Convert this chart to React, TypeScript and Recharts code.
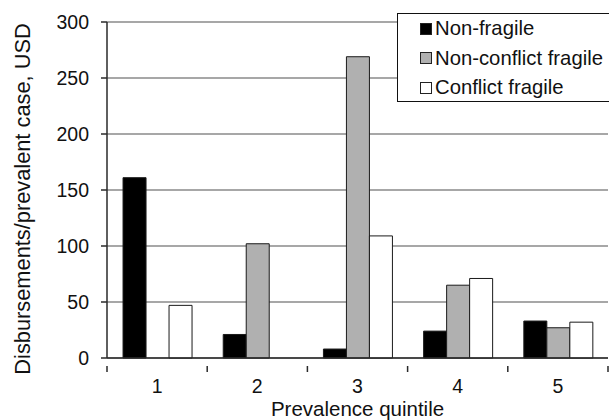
import React from 'react'
import { BarChart, Bar, XAxis, YAxis, CartesianGrid, Legend } from 'recharts'

const quintiles = ['1', '2', '3', '4', '5']
const nonFragile = [161, 21, 8, 24, 33]
const nonConflictFragile = [0, 102, 269, 65, 27]
const conflictFragile = [47, 0, 109, 71, 32]
const yTicks = [0, 50, 100, 150, 200, 250, 300]

const seriesNames = ['Non-fragile', 'Non-conflict fragile', 'Conflict fragile']
const seriesColors = ['#000000', '#b0b0b0', '#ffffff']

const data = quintiles.map((q, i) => ({
  q,
  nf: nonFragile[i],
  ncf: nonConflictFragile[i],
  cf: conflictFragile[i],
}))

const FONT = '"Liberation Sans", Arial, sans-serif'
const AXIS = '#2a2a2a'

function QuintileTick(props: any) {
  const { x, y, payload, index, width, visibleTicksCount } = props
  const half = payload?.offset || width / (visibleTicksCount || 5) / 2
  const last = index === (visibleTicksCount || 5) - 1
  return (
    <g>
      <line x1={x - half} x2={x - half} y1={y} y2={y + 6} stroke={AXIS} strokeWidth={1.5} />
      {last && <line x1={x + half} x2={x + half} y1={y} y2={y + 6} stroke={AXIS} strokeWidth={1.5} />}
      <text x={x} y={y + 27} textAnchor="middle" fontSize={19.5} fill="#111" fontFamily={FONT}>
        {payload.value}
      </text>
    </g>
  )
}

function YTitle() {
  const cx = 30
  const cy = 199
  return (
    <text
      x={cx}
      y={cy}
      transform={`rotate(-90, ${cx}, ${cy})`}
      textAnchor="middle"
      fontSize={21.8}
      fill="#111"
      fontFamily={FONT}
    >
      Disbursements/prevalent case, USD
    </text>
  )
}

function XTitle(props: any) {
  const { viewBox } = props
  return (
    <text
      x={viewBox.x + viewBox.width / 2}
      y={415.5}
      textAnchor="middle"
      fontSize={20.5}
      fill="#111"
      fontFamily={FONT}
    >
      Prevalence quintile
    </text>
  )
}

function LegendBox() {
  return (
    <div
      style={{
        border: '1px solid #111',
        background: '#fff',
        boxSizing: 'border-box',
        width: 214,
        height: 89,
        padding: '0 0 0 22px',
        fontFamily: FONT,
        fontSize: 20.3,
        color: '#111',
      }}
    >
      {seriesNames.map((name, i) => (
        <div key={name} style={{ display: 'flex', alignItems: 'center', height: 29.5, whiteSpace: 'nowrap' }}>
          <span
            style={{
              display: 'inline-block',
              width: 10,
              height: 10,
              background: seriesColors[i],
              border: '1px solid #222',
              marginRight: 3,
            }}
          />
          <span>{name}</span>
        </div>
      ))}
    </div>
  )
}

export default function App() {
  return (
    <div style={{ position: 'absolute', left: 0, top: 0, width: 609, height: 420, overflow: 'hidden' }}>
      <BarChart
        width={609}
        height={420}
        data={data}
        margin={{ top: 22, right: 1, left: 0, bottom: 0 }}
        barCategoryGap="16%"
        barGap={0}
      >
        <CartesianGrid vertical={false} stroke="#8a8a8a" strokeWidth={1.3} />
        <XAxis
          dataKey="q"
          height={62}
          tickLine={false}
          axisLine={{ stroke: AXIS, strokeWidth: 1.5 }}
          tick={<QuintileTick />}
          interval={0}
          label={<XTitle />}
        />
        <YAxis
          width={107}
          domain={[0, 300]}
          ticks={yTicks}
          interval={0}
          tickSize={6}
          tickMargin={12}
          tickLine={{ stroke: AXIS, strokeWidth: 1.5 }}
          axisLine={{ stroke: AXIS, strokeWidth: 1.5 }}
          tick={{ fontSize: 19.5, fill: '#111', fontFamily: FONT }}
          label={<YTitle />}
        />
        <Legend
          layout="vertical"
          align="center"
          verticalAlign="middle"
          content={<LegendBox />}
          wrapperStyle={{ position: 'absolute', top: 13, left: 397, width: 214, height: 89 }}
        />
        <Bar dataKey="nf" name={seriesNames[0]} fill={seriesColors[0]} stroke="#1a1a1a" strokeWidth={1} isAnimationActive={false} />
        <Bar dataKey="ncf" name={seriesNames[1]} fill={seriesColors[1]} stroke="#1a1a1a" strokeWidth={1} isAnimationActive={false} />
        <Bar dataKey="cf" name={seriesNames[2]} fill={seriesColors[2]} stroke="#1a1a1a" strokeWidth={1} isAnimationActive={false} />
      </BarChart>
    </div>
  )
}
